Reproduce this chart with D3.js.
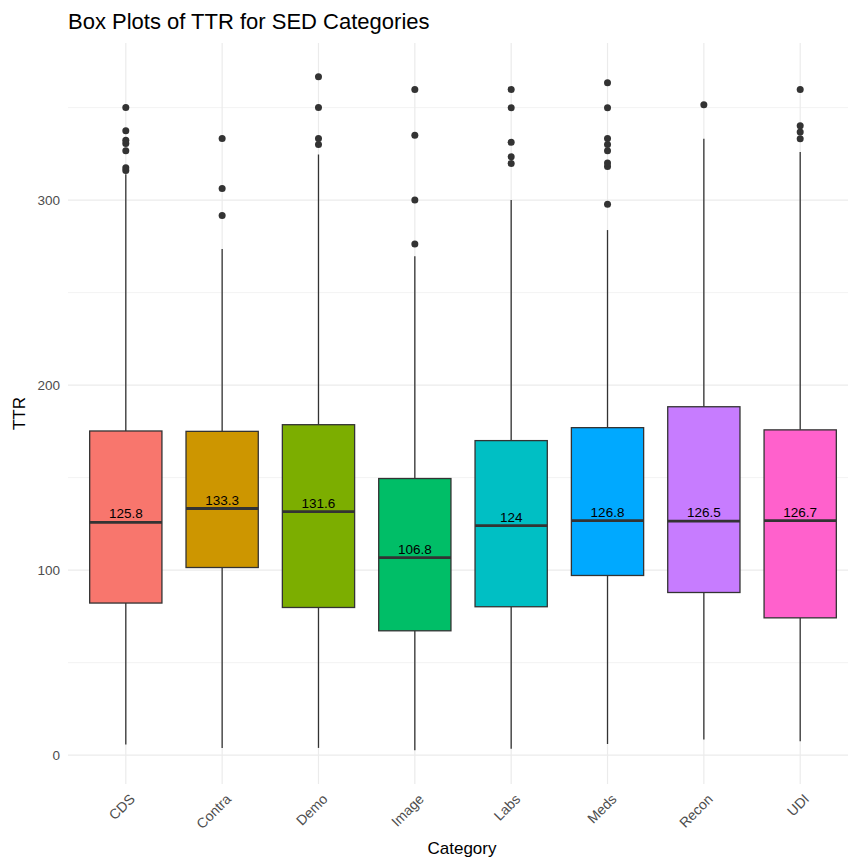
<!DOCTYPE html>
<html>
<head>
<meta charset="utf-8">
<script src="https://cdn.jsdelivr.net/npm/d3@7"></script>
<style>
  html, body { margin: 0; padding: 0; background: #fff; }
  svg { display: block; font-family: "Liberation Sans", Arial, Helvetica, sans-serif; }
</style>
</head>
<body>
<svg id="chart" width="848" height="861"></svg>
<script>
// Five-number summaries of TTR per SED category
const categories = ["CDS", "Contra", "Demo", "Image", "Labs", "Meds", "Recon", "UDI"];
const lowerWhisker = [5.7, 3.9, 3.9, 2.6, 3.5, 6.0, 8.4, 7.5];
const q1Values     = [82.2, 101.4, 79.8, 67.2, 80.2, 97.1, 87.9, 74.2];
const medianValues = [125.8, 133.3, 131.6, 106.8, 124, 126.8, 126.5, 126.7];
const q3Values     = [175.2, 175.0, 178.6, 149.5, 170.0, 177.0, 188.3, 175.8];
const upperWhisker = [314, 273.5, 324.7, 269.7, 300, 283.8, 333.1, 326];
const outlierValues = [
  [316, 317.5, 326.6, 330.6, 332.4, 337.5, 350.1],
  [291.7, 306.3, 333.3],
  [330.1, 333.3, 350, 366.7],
  [276.2, 300, 335, 359.8],
  [319.8, 323.4, 331.2, 349.9, 359.8],
  [297.8, 318.2, 320, 326.6, 330.1, 333.3, 349.9, 363.4],
  [351.5],
  [333.1, 336.8, 340.2, 359.8]
];
const yTicks = [0, 100, 200, 300];
const yMinorTicks = [50, 150, 250, 350];
const fillColors = ["#F8766D", "#CD9600", "#7CAE00", "#00BE67", "#00BFC4", "#00A9FF", "#C77CFF", "#FF61CC"];

const boxes = categories.map((c, i) => ({
  cat: c, lo: lowerWhisker[i], q1: q1Values[i], med: medianValues[i],
  q3: q3Values[i], hi: upperWhisker[i], out: outlierValues[i], fill: fillColors[i]
}));

const svg = d3.select("#chart");
const panel = { left: 68, right: 858, top: 43, bottom: 784 };

// Discrete x axis with 0.6 padding on each side
const x = d3.scalePoint().domain(categories)
  .range([panel.left, panel.right]).padding(0.6);
const band = x.step();

const allVals = boxes.flatMap(b => [b.lo, b.hi, ...b.out]);
const yLo = d3.min(allVals), yHi = d3.max(allVals);
const pad = (yHi - yLo) * 0.05;
const y = d3.scaleLinear().domain([yLo - pad, yHi + pad])
  .range([panel.bottom, panel.top]);

// Grid
const grid = svg.append("g");
grid.selectAll("line.minor").data(yMinorTicks).join("line")
  .attr("x1", panel.left).attr("x2", panel.right)
  .attr("y1", d => y(d)).attr("y2", d => y(d))
  .attr("stroke", "#ebebeb").attr("stroke-width", 0.6);
grid.selectAll("line.major").data(yTicks).join("line")
  .attr("x1", panel.left).attr("x2", panel.right)
  .attr("y1", d => y(d)).attr("y2", d => y(d))
  .attr("stroke", "#ebebeb").attr("stroke-width", 1.2);
grid.selectAll("line.vert").data(categories).join("line")
  .attr("x1", d => x(d)).attr("x2", d => x(d))
  .attr("y1", panel.top).attr("y2", panel.bottom)
  .attr("stroke", "#ebebeb").attr("stroke-width", 1.2);

// Boxes
const g = svg.append("g");
const bw = band * 0.75;
const box = g.selectAll("g.box").data(boxes).join("g");

box.append("line")
  .attr("x1", d => x(d.cat)).attr("x2", d => x(d.cat))
  .attr("y1", d => y(d.q3)).attr("y2", d => y(d.hi))
  .attr("stroke", "#333").attr("stroke-width", 1.3);
box.append("line")
  .attr("x1", d => x(d.cat)).attr("x2", d => x(d.cat))
  .attr("y1", d => y(d.q1)).attr("y2", d => y(d.lo))
  .attr("stroke", "#333").attr("stroke-width", 1.3);
box.append("rect")
  .attr("x", d => x(d.cat) - bw / 2).attr("width", bw)
  .attr("y", d => y(d.q3)).attr("height", d => y(d.q1) - y(d.q3))
  .attr("fill", d => d.fill).attr("stroke", "#333").attr("stroke-width", 1.3);
box.append("line")
  .attr("x1", d => x(d.cat) - bw / 2).attr("x2", d => x(d.cat) + bw / 2)
  .attr("y1", d => y(d.med)).attr("y2", d => y(d.med))
  .attr("stroke", "#333").attr("stroke-width", 2.8);
box.selectAll("circle").data(d => d.out.map(v => ({ cat: d.cat, v }))).join("circle")
  .attr("cx", d => x(d.cat)).attr("cy", d => y(d.v)).attr("r", 3.5)
  .attr("fill", "#333");

// Median labels
box.append("text")
  .attr("x", d => x(d.cat)).attr("y", d => y(d.med) - 4)
  .attr("text-anchor", "middle").attr("font-size", 13.5).attr("fill", "#000")
  .text(d => d3.format("~f")(d.med));

// Y axis labels
svg.append("g").selectAll("text").data(yTicks).join("text")
  .attr("x", 60).attr("y", d => y(d)).attr("dy", "0.35em")
  .attr("text-anchor", "end").attr("font-size", 13.5).attr("fill", "#4d4d4d")
  .text(d => d);

// X axis labels, rotated
svg.append("g").selectAll("text").data(categories).join("text")
  .attr("transform", d => `translate(${x(d) + 3},${793}) rotate(-45)`)
  .attr("text-anchor", "end").attr("dy", "0.7em")
  .attr("font-size", 14).attr("fill", "#4d4d4d")
  .text(d => d);

// Axis titles and chart title
svg.append("text").attr("x", (panel.left + 848) / 2 + 4).attr("y", 854)
  .attr("text-anchor", "middle").attr("font-size", 17).attr("fill", "#000")
  .text("Category");
svg.append("text").attr("transform", `translate(25,${(panel.top + panel.bottom) / 2}) rotate(-90)`)
  .attr("text-anchor", "middle").attr("font-size", 17).attr("fill", "#000")
  .text("TTR");
svg.append("text").attr("x", 68).attr("y", 29)
  .attr("font-size", 22).attr("fill", "#000")
  .text("Box Plots of TTR for SED Categories");
</script>
</body>
</html>
